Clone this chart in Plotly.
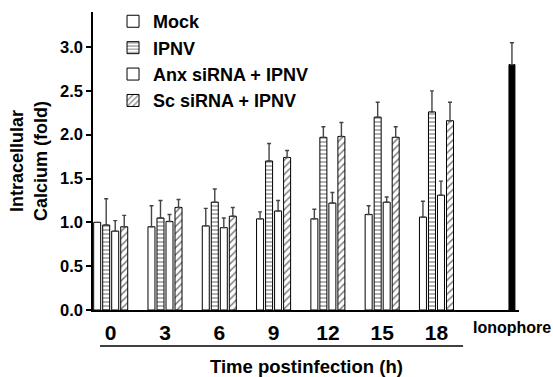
import plotly.graph_objects as go

# ---- data ----
groups = ["0", "3", "6", "9", "12", "15", "18"]
mock = [1.00, 0.95, 0.96, 1.04, 1.04, 1.09, 1.06]
mock_err = [0.00, 0.24, 0.20, 0.08, 0.11, 0.10, 0.18]
ipnv = [0.97, 1.05, 1.23, 1.70, 1.97, 2.20, 2.26]
ipnv_err = [0.30, 0.20, 0.15, 0.20, 0.12, 0.17, 0.24]
anx = [0.90, 1.01, 0.94, 1.13, 1.22, 1.23, 1.31]
anx_err = [0.12, 0.08, 0.11, 0.12, 0.12, 0.06, 0.16]
sc = [0.95, 1.17, 1.07, 1.74, 1.98, 1.97, 2.16]
sc_err = [0.13, 0.09, 0.10, 0.08, 0.16, 0.12, 0.21]
iono_label = "Ionophore"
iono = [2.80]
iono_err = [0.25]
y_ticks = [0, 0.5, 1.0, 1.5, 2.0, 2.5, 3.0]

# ---- layout constants ----
FONT = "Liberation Sans, Arial, sans-serif"
BW = 0.129
centers = [-0.249, -0.083, 0.083, 0.249]
IONO_POS = 7.39
xs = list(range(len(groups)))

fig = go.Figure()

def err(vals):
    return dict(type="data", array=vals, arrayminus=[0] * len(vals), symmetric=False,
                color="#444", thickness=1.4, width=2)

series = [
    ("Mock", mock, mock_err, dict()),
    ("IPNV", ipnv, ipnv_err, dict(shape="-", size=4, solidity=0.3, fgcolor="black", bgcolor="white")),
    ("Anx siRNA + IPNV", anx, anx_err, dict()),
    ("Sc siRNA + IPNV", sc, sc_err, dict(shape="/", size=5, solidity=0.3, fgcolor="black", bgcolor="white")),
]
for i, (name, vals, e, pat) in enumerate(series):
    fig.add_trace(go.Bar(
        x=xs, y=vals, name=name, width=BW, offset=centers[i] - BW / 2,
        marker=dict(color="white", line=dict(color="black", width=1), pattern=pat),
        error_y=err(e), legendgroup=name,
    ))

fig.add_trace(go.Bar(
    x=[IONO_POS], y=iono, name=iono_label, width=0.11, showlegend=False,
    marker=dict(color="black", line=dict(color="black", width=1)),
    error_y=err(iono_err),
))

fig.update_layout(
    width=553, height=377,
    margin=dict(l=93, r=34, t=12, b=67, autoexpand=False),
    barmode="overlay",
    plot_bgcolor="white", paper_bgcolor="white",
    font=dict(family=FONT, color="black"),
    showlegend=True,
    legend=dict(x=0.047, y=1.03, xanchor="left", yanchor="top",
                font=dict(family=FONT, size=18, color="black", weight="bold"),
                tracegroupgap=0, bgcolor="rgba(0,0,0,0)"),
    xaxis=dict(range=[-0.326, 7.52], showline=True, linecolor="black", linewidth=1.5,
               tickvals=xs, ticktext=["<b>%s</b>" % g for g in groups], ticks="",
               ticklabelstandoff=3,
               tickfont=dict(size=21, family=FONT), showgrid=False, zeroline=False),
    yaxis=dict(range=[0, 3.4], showline=True, linecolor="black", linewidth=1.5,
               tickvals=y_ticks,
               ticktext=["<b>%.1f</b>" % v for v in y_ticks],
               ticks="outside", ticklen=5, tickwidth=1.5, tickcolor="black",
               tickfont=dict(size=16.5, family=FONT), showgrid=False, zeroline=False,
               title=dict(text="<b>Intracellular<br>Calcium (fold)</b>", font=dict(size=18, family=FONT),
                          standoff=8)),
)

fig.add_annotation(x=IONO_POS, y=0, xref="x", yref="y", yshift=-7, yanchor="top",
                   text="<b>%s</b>" % iono_label, showarrow=False,
                   font=dict(size=16, family=FONT, color="black"))
fig.add_shape(type="line", xref="x", yref="paper", x0=-0.197, x1=6.49, y0=-0.121, y1=-0.121,
              line=dict(color="black", width=1.5))
fig.add_annotation(x=0.5, y=-0.188, xref="paper", yref="paper", yanchor="middle",
                   text="<b>Time postinfection (h)</b>", showarrow=False,
                   font=dict(size=18.5, family=FONT, color="black"))

fig.write_html("out.html", config={"displayModeBar": False},
               post_script="document.body.style.margin='0';")
